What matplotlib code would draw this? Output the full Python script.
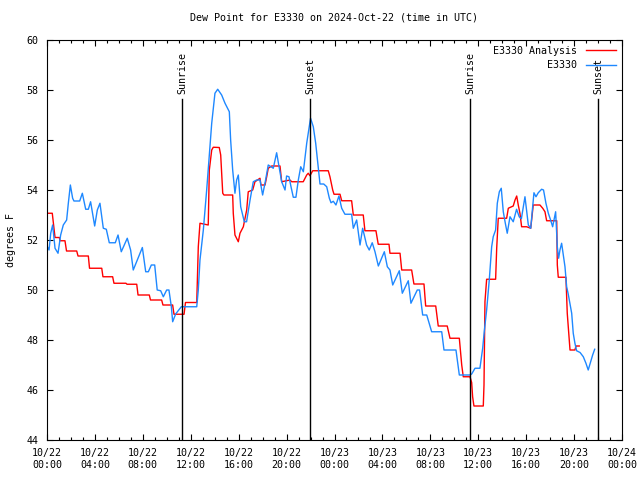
import matplotlib
matplotlib.use("Agg")
import matplotlib.pyplot as plt
from matplotlib.ticker import MultipleLocator

## data (hours since 2024-10-22 00:00 UTC, degrees F)
obs_hours = [0.0, 0.17, 0.31, 0.47, 0.67, 0.92, 1.14, 1.36, 1.64, 1.78, 1.95, 2.14, 2.25, 2.73,
             2.95, 3.23, 3.45, 3.64, 3.98, 4.2, 4.42, 4.7, 4.95, 5.2, 5.7, 5.93, 6.2, 6.7, 6.98,
             7.2, 7.96, 8.24, 8.46, 8.71, 8.99, 9.2, 9.49, 9.71, 9.99, 10.18, 10.38, 10.49, 10.74,
             11.21, 12.5, 12.63, 12.77, 13.05, 13.33, 13.75, 14.02, 14.25, 14.58, 14.86, 15.22,
             15.33, 15.5, 15.69, 15.83, 15.97, 16.17, 16.47, 16.66, 16.95, 17.22, 17.5, 17.78,
             18.0, 18.22, 18.47, 18.89, 19.17, 19.37, 19.59, 19.87, 20.0, 20.2, 20.37, 20.56,
             20.78, 20.98, 21.18, 21.4, 21.68, 22.0, 22.23, 22.43, 22.65, 22.79, 23.1, 23.35,
             23.57, 23.71, 23.9, 24.12, 24.37, 24.6, 24.87, 25.43, 25.57, 25.85, 26.13, 26.35,
             26.68, 26.9, 27.15, 27.38, 27.66, 28.16, 28.41, 28.63, 28.86, 29.41, 29.66, 30.16,
             30.38, 30.91, 31.1, 31.36, 31.7, 32.11, 32.95, 33.14, 34.14, 34.42, 35.31, 35.45,
             35.73, 36.14, 36.37, 36.5, 36.7, 36.92, 37.12, 37.25, 37.45, 37.59, 37.76, 37.92,
             38.09, 38.26, 38.42, 38.65, 38.92, 39.2, 39.42, 39.6, 39.9, 40.18, 40.38, 40.65,
             40.82, 41.01, 41.29, 41.45, 41.65, 41.85, 42.04, 42.21, 42.35, 42.46, 42.6, 42.71,
             42.82, 42.96, 43.24, 43.38, 43.51, 43.8, 43.93, 44.07, 44.21, 44.5, 44.77, 44.99,
             45.18, 45.38, 45.55, 45.72]
obs_dew = [51.76, 51.6, 52.27, 52.6, 51.67, 51.47, 52.2, 52.6, 52.8, 53.47, 54.2, 53.67, 53.56, 53.56,
           53.87, 53.23, 53.23, 53.53, 52.56, 53.2, 53.47, 52.47, 52.43, 51.89, 51.89, 52.2, 51.53,
           52.07, 51.6, 50.8, 51.7, 50.73, 50.73, 51.0, 51.0, 50.0, 49.97, 49.73, 50.0, 50.0, 49.33,
           48.73, 49.04, 49.33, 49.33, 50.0, 51.2, 52.4, 54.0, 56.67, 57.87, 58.03, 57.8, 57.47,
           57.13, 56.0, 54.8, 53.87, 54.4, 54.6, 53.33, 52.73, 52.73, 53.6, 54.33, 54.4, 54.4,
           53.8, 54.33, 55.0, 54.87, 55.49, 54.93, 54.33, 54.0, 54.56, 54.53, 54.13, 53.71, 53.71,
           54.4, 54.93, 54.73, 55.87, 56.87, 56.53, 55.87, 54.87, 54.24, 54.24, 54.13, 53.67,
           53.49, 53.55, 53.4, 53.76, 53.27, 53.03, 53.03, 52.47, 52.8, 51.8, 52.47, 51.8, 51.6,
           51.89, 51.53, 50.96, 51.53, 50.93, 50.8, 50.2, 50.77, 49.87, 50.37, 49.47, 50.0, 50.0,
           49.0, 49.0, 48.33, 48.33, 47.6, 47.6, 46.6, 46.6, 46.64, 46.87, 46.87, 47.67, 48.33,
           49.2, 50.4, 51.73, 52.13, 52.4, 53.47, 53.93, 54.07, 53.13, 52.67, 52.27, 52.93, 52.73,
           53.23, 52.93, 52.85, 53.73, 52.6, 52.47, 53.89, 53.73, 53.89, 54.03, 54.0, 53.47, 53.07,
           52.8, 52.53, 52.87, 53.13, 51.73, 51.27, 51.6, 51.87, 50.93, 50.13, 49.84, 49.07, 48.27,
           47.87, 47.57, 47.5, 47.33, 47.07, 46.8, 47.13, 47.4, 47.63]

ana_hours = [0.0, 0.44, 0.67, 1.03, 1.09, 1.50, 1.63, 2.48, 2.59, 3.45, 3.55, 4.57, 4.67, 5.48,
             5.59, 6.59, 6.68, 7.49, 7.60, 8.54, 8.64, 9.57, 9.68, 10.49, 10.60, 11.44, 11.56,
             12.50, 12.63, 12.77, 13.46, 13.55, 13.75, 13.88, 14.38, 14.50, 14.67, 14.77, 15.50,
             15.55, 15.69, 15.97, 16.11, 16.39, 16.67, 16.80, 17.17, 17.36, 17.78, 17.86, 18.20,
             18.34, 18.47, 18.76, 19.45, 19.59, 20.28, 20.43, 21.39, 21.68, 21.81, 21.95, 22.18,
             23.48, 23.62, 23.85, 23.96, 24.46, 24.60, 25.43, 25.57, 26.40, 26.54, 27.46, 27.65,
             28.55, 28.63, 29.47, 29.61, 30.44, 30.63, 31.47, 31.61, 32.45, 32.66, 33.41, 33.64,
             34.42, 34.62, 34.75, 35.31, 35.45, 35.53, 35.64, 36.42, 36.48, 36.56, 36.70, 37.45,
             37.54, 37.67, 38.37, 38.51, 38.92, 39.07, 39.21, 39.34, 39.48, 39.62, 40.04, 40.38,
             40.59, 41.15, 41.38, 41.57, 41.71, 42.55, 42.60, 42.68, 43.32, 43.43, 43.66, 44.07,
             44.16, 44.43]
ana_dew = [53.07, 53.07, 52.1, 52.1, 51.97, 51.97, 51.56, 51.56, 51.36, 51.36, 50.87, 50.87, 50.53,
           50.53, 50.27, 50.27, 50.23, 50.23, 49.8, 49.8, 49.6, 49.6, 49.4, 49.4, 49.03, 49.03,
           49.5, 49.5, 51.73, 52.67, 52.6, 54.8, 55.6, 55.71, 55.7, 55.4, 53.87, 53.8, 53.8, 53.07,
           52.2, 51.93, 52.27, 52.53, 53.2, 53.93, 54.0, 54.33, 54.47, 54.2, 54.2, 54.53, 54.87,
           54.96, 54.96, 54.33, 54.4, 54.33, 54.33, 54.6, 54.67, 54.57, 54.77, 54.77, 54.53, 54.0,
           53.83, 53.83, 53.57, 53.57, 53.0, 53.0, 52.37, 52.37, 51.83, 51.83, 51.47, 51.47, 50.8,
           50.8, 50.24, 50.24, 49.36, 49.36, 48.56, 48.56, 48.07, 48.07, 47.0, 46.53, 46.53, 46.3,
           45.73, 45.36, 45.36, 46.2, 49.53, 50.43, 50.43, 51.67, 52.87, 52.87, 53.27, 53.36, 53.6,
           53.76, 53.4, 53.07, 52.53, 52.53, 52.47, 53.4, 53.4, 53.27, 53.13, 52.77, 52.77, 51.0,
           50.51, 50.51, 49.07, 47.6, 47.6, 47.76, 47.76]

sun_hours = [11.27, 21.95, 35.31, 45.99]
sun_names = ["Sunrise", "Sunset", "Sunrise", "Sunset"]

tick_hours = list(range(0, 49, 4))
tick_labels = ["10/22\n00:00", "10/22\n04:00", "10/22\n08:00", "10/22\n12:00", "10/22\n16:00",
               "10/22\n20:00", "10/23\n00:00", "10/23\n04:00", "10/23\n08:00", "10/23\n12:00",
               "10/23\n16:00", "10/23\n20:00", "10/24\n00:00"]

plt.rcParams['font.family'] = ['DejaVu Sans Mono']
plt.rcParams['font.size'] = 7.2

fig = plt.figure(figsize=(6.4, 4.8), dpi=100)
ax = fig.add_axes([47/640, 40/480, 575/640, 400/480])

ax.plot(ana_hours, ana_dew, color='#ff0000', lw=1, label='E3330 Analysis')
ax.plot(obs_hours, obs_dew, color='#1e88ff', lw=1, label='E3330')

## sunrise / sunset markers
for h, name in zip(sun_hours, sun_names):
    ax.axvline(h, ymin=0, ymax=0.8525, color='black', lw=1)
    ax.text(h, 57.85, name, rotation=90, ha='center', va='bottom')

ax.set_xlim(0, 48)
ax.set_ylim(44, 60)
ax.set_xticks(tick_hours)
ax.set_xticklabels(tick_labels)
ax.xaxis.set_minor_locator(MultipleLocator(1))
ax.yaxis.set_major_locator(MultipleLocator(2))
ax.tick_params(which='both', direction='in', top=True, right=True, width=0.8)
ax.tick_params(which='major', length=4.5, pad=6)
ax.tick_params(which='minor', length=2.5)
for s in ax.spines.values():
    s.set_linewidth(0.8)

ax.set_ylabel('degrees F', labelpad=8)
ax.set_title('Dew Point for E3330 on 2024-Oct-22 (time in UTC)', fontsize=7.2, pad=14)

leg = ax.legend(loc='upper right', frameon=False, markerfirst=False, handlelength=3.0,
                borderaxespad=0.4, borderpad=0.2, labelspacing=0.45, handletextpad=0.9)

fig.savefig('out.png', dpi=100)
